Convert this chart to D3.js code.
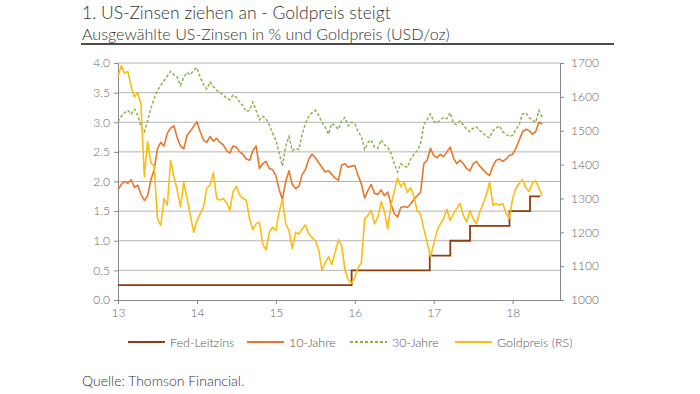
<!DOCTYPE html>
<html>
<head>
<meta charset="utf-8">
<title>US-Zinsen und Goldpreis</title>
<script src="https://cdn.jsdelivr.net/npm/d3@7/dist/d3.min.js"></script>
<style>
    body { margin: 0; background: #fff; }
    svg { display: block; font-family: Lato, "Open Sans", sans-serif; font-weight: 300; }
</style>
</head>
<body>
<svg id="chart" width="700" height="394"></svg>
<script>
// semi-monthly readings, first value = start of 2013
const startYear = 13;
const perYear = 24;

const tenYear = [
    1.86, 1.95, 2.00, 1.97, 2.03, 1.90, 1.94, 1.78, 1.68, 1.76, 2.03, 2.20, 2.55, 2.66, 2.60, 2.82, 2.90, 2.94, 2.74, 2.60, 2.55, 2.78, 2.85, 2.93,
    3.01, 2.84, 2.70, 2.66, 2.76, 2.68, 2.73, 2.66, 2.62, 2.52, 2.48, 2.60, 2.58, 2.50, 2.46, 2.38, 2.36, 2.52, 2.60, 2.22, 2.30, 2.34, 2.22, 2.20,
    2.10, 1.86, 1.70, 2.00, 2.18, 1.95, 1.88, 1.92, 2.12, 2.20, 2.38, 2.46, 2.40, 2.32, 2.24, 2.16, 2.18, 2.12, 2.06, 2.02, 2.28, 2.30, 2.24, 2.26,
    2.27, 2.10, 1.96, 1.72, 1.85, 1.95, 1.80, 1.78, 1.86, 1.76, 1.82, 1.62, 1.46, 1.40, 1.56, 1.58, 1.56, 1.62, 1.70, 1.76, 1.82, 2.30, 2.36, 2.56,
    2.44, 2.40, 2.46, 2.42, 2.50, 2.58, 2.40, 2.30, 2.36, 2.30, 2.22, 2.18, 2.30, 2.34, 2.26, 2.20, 2.14, 2.10, 2.26, 2.36, 2.38, 2.34, 2.38, 2.44,
    2.46, 2.56, 2.70, 2.84, 2.88, 2.86, 2.80, 2.84, 3.00, 2.97
];

const thirtyYear = [
    3.01, 3.10, 3.16, 3.20, 3.14, 3.22, 3.12, 2.92, 2.84, 3.02, 3.24, 3.40, 3.54, 3.62, 3.70, 3.78, 3.86, 3.80, 3.76, 3.62, 3.76, 3.84, 3.80, 3.88,
    3.92, 3.76, 3.64, 3.56, 3.68, 3.60, 3.54, 3.50, 3.46, 3.40, 3.38, 3.46, 3.42, 3.34, 3.28, 3.18, 3.20, 3.34, 3.20, 3.04, 3.10, 3.06, 2.96, 2.82,
    2.70, 2.48, 2.26, 2.60, 2.76, 2.52, 2.56, 2.54, 2.80, 2.98, 3.10, 3.16, 3.20, 3.12, 3.00, 2.92, 2.80, 2.98, 2.94, 2.88, 3.02, 3.08, 2.94, 3.00,
    2.98, 2.84, 2.76, 2.54, 2.66, 2.70, 2.58, 2.56, 2.70, 2.62, 2.58, 2.48, 2.30, 2.16, 2.30, 2.26, 2.24, 2.38, 2.46, 2.52, 2.64, 2.96, 3.04, 3.14,
    3.02, 2.98, 3.04, 3.08, 3.06, 3.16, 2.98, 2.96, 3.02, 2.96, 2.88, 2.84, 2.90, 2.92, 2.86, 2.82, 2.76, 2.74, 2.86, 2.90, 2.94, 2.84, 2.80, 2.76,
    2.78, 2.88, 2.96, 3.14, 3.16, 3.08, 3.04, 3.00, 3.20, 3.08
];

const goldPrice = [
    1660, 1692, 1670, 1675, 1630, 1600, 1612, 1575, 1365, 1468, 1405, 1395, 1240, 1220, 1300, 1280, 1412, 1365, 1325, 1275, 1348, 1300, 1250, 1200,
    1235, 1255, 1275, 1330, 1340, 1376, 1300, 1295, 1300, 1288, 1265, 1320, 1336, 1310, 1300, 1295, 1240, 1208, 1225, 1230, 1165, 1148, 1200, 1215,
    1205, 1260, 1296, 1225, 1205, 1152, 1200, 1195, 1210, 1222, 1195, 1185, 1175, 1150, 1088, 1110, 1128, 1105, 1140, 1178, 1160, 1090, 1060, 1050,
    1065, 1095, 1110, 1240, 1250, 1265, 1225, 1245, 1290, 1262, 1210, 1280, 1320, 1360, 1335, 1348, 1318, 1332, 1305, 1262, 1255, 1210, 1170, 1128,
    1165, 1205, 1225, 1240, 1268, 1235, 1255, 1270, 1285, 1250, 1230, 1265, 1240, 1225, 1260, 1285, 1310, 1348, 1280, 1285, 1280, 1285, 1255, 1242,
    1300, 1330, 1345, 1355, 1332, 1320, 1345, 1352, 1330, 1308
];

// Fed funds target (upper bound) and the dates it changed
const fedDates = [13, 15.96, 16.95, 17.21, 17.46, 17.96, 18.22, 18.35];
const fedRates = [0.25, 0.50, 0.75, 1.00, 1.25, 1.50, 1.75, 1.75];

const yearTicks = [13, 14, 15, 16, 17, 18];
const rateTicks = [0, 0.5, 1, 1.5, 2, 2.5, 3, 3.5, 4];
const goldTicks = [1000, 1100, 1200, 1300, 1400, 1500, 1600, 1700];

const legendLabels = ["Fed-Leitzins", "10-Jahre", "30-Jahre", "Goldpreis (RS)"];

const titleText = "1. US-Zinsen ziehen an - Goldpreis steigt";
const subtitleText = "Ausgewählte US-Zinsen in % und Goldpreis (USD/oz)";
const sourceText = "Quelle: Thomson Financial.";

const colors = {
    fed: "#8e3c12",
    ten: "#e8772a",
    thirty: "#8fb24f",
    gold: "#fbbd12"
};

const svg = d3.select("#chart");
const plot = { left: 118, right: 560, top: 63, bottom: 300 };

const x = d3.scaleLinear().domain([13, 18.6]).range([plot.left, plot.right]);
const yLeft = d3.scaleLinear().domain([0, 4]).range([plot.bottom, plot.top]);
const yRight = d3.scaleLinear().domain([1000, 1700]).range([plot.bottom, plot.top]);

const tOf = (i) => startYear + i / perYear;

// title block
function fitText(sel, width) {
    let size = parseFloat(sel.attr("font-size"));
    const len = sel.node().getComputedTextLength();
    sel.attr("font-size", (size * width / len).toFixed(2));
}

const title = svg.append("text")
    .attr("x", 82).attr("y", 19)
    .attr("font-size", 17).attr("fill", "#333")
    .text(titleText);
fitText(title, 309);

const subtitle = svg.append("text")
    .attr("x", 82).attr("y", 40)
    .attr("font-size", 15).attr("fill", "#333")
    .text(subtitleText);
fitText(subtitle, 368);

svg.append("line")
    .attr("x1", 81).attr("x2", 614)
    .attr("y1", 44).attr("y2", 44)
    .attr("stroke", "#111").attr("stroke-width", 1.5);

// gridlines
svg.append("g")
    .selectAll("line")
    .data(rateTicks.filter(d => d > 0))
    .join("line")
    .attr("x1", plot.left).attr("x2", plot.right)
    .attr("y1", d => yLeft(d)).attr("y2", d => yLeft(d))
    .attr("stroke", "#b4b4b4").attr("stroke-width", 1);

// axes
function styleAxis(g) {
    g.selectAll(".domain").attr("stroke", "#888");
    g.selectAll(".tick line").attr("stroke", "#888");
    g.selectAll(".tick text")
        .attr("fill", "#666")
        .attr("font-size", 12)
        .attr("font-family", "Lato, \"Open Sans\", sans-serif")
        .attr("font-weight", 300);
}

svg.append("g")
    .attr("transform", `translate(${plot.left},0)`)
    .call(d3.axisLeft(yLeft).tickValues(rateTicks).tickFormat(d3.format(".1f")).tickSize(4).tickSizeOuter(0).tickPadding(4))
    .call(styleAxis);

svg.append("g")
    .attr("transform", `translate(${plot.right},0)`)
    .call(d3.axisRight(yRight).tickValues(goldTicks).tickFormat(d3.format("d")).tickSize(4).tickSizeOuter(0).tickPadding(7))
    .call(styleAxis);

svg.append("g")
    .attr("transform", `translate(0,${plot.bottom})`)
    .call(d3.axisBottom(x).tickValues(yearTicks).tickFormat(d3.format("d")).tickSize(4).tickSizeOuter(0).tickPadding(4))
    .call(styleAxis);

// series
const lines = svg.append("g");

const fedLine = d3.line()
    .x((d, i) => x(fedDates[i]))
    .y(d => yLeft(d))
    .curve(d3.curveStepAfter);

lines.append("path")
    .datum(fedRates)
    .attr("d", fedLine)
    .attr("fill", "none")
    .attr("stroke", colors.fed)
    .attr("stroke-width", 1.8);

const rateLine = d3.line()
    .x((d, i) => x(tOf(i)))
    .y(d => yLeft(d));

lines.append("path")
    .datum(tenYear)
    .attr("d", rateLine)
    .attr("fill", "none")
    .attr("stroke", colors.ten)
    .attr("stroke-width", 1.6)
    .attr("stroke-linejoin", "round");

lines.append("path")
    .datum(thirtyYear)
    .attr("d", rateLine)
    .attr("fill", "none")
    .attr("stroke", colors.thirty)
    .attr("stroke-width", 1.5)
    .attr("stroke-dasharray", "3,2");

const goldLine = d3.line()
    .x((d, i) => x(tOf(i)))
    .y(d => yRight(d));

lines.append("path")
    .datum(goldPrice)
    .attr("d", goldLine)
    .attr("fill", "none")
    .attr("stroke", colors.gold)
    .attr("stroke-width", 1.6)
    .attr("stroke-linejoin", "round");

// legend
const legendX = [128, 247, 350, 455];
const legendColors = [colors.fed, colors.ten, colors.thirty, colors.gold];
const legendDash = [null, null, "3,2", null];

const legend = svg.append("g")
    .selectAll("g")
    .data(legendLabels)
    .join("g")
    .attr("transform", (d, i) => `translate(${legendX[i]},342)`);

legend.append("line")
    .attr("x1", 0).attr("x2", 37)
    .attr("stroke", (d, i) => legendColors[i])
    .attr("stroke-width", 2)
    .attr("stroke-dasharray", (d, i) => legendDash[i]);

legend.append("text")
    .attr("x", 42).attr("y", 4.5)
    .attr("font-size", 12.5)
    .attr("fill", "#555")
    .text(d => d);

svg.append("text")
    .attr("x", 82).attr("y", 386)
    .attr("font-size", 14)
    .attr("fill", "#333")
    .text(sourceText);
</script>
</body>
</html>
